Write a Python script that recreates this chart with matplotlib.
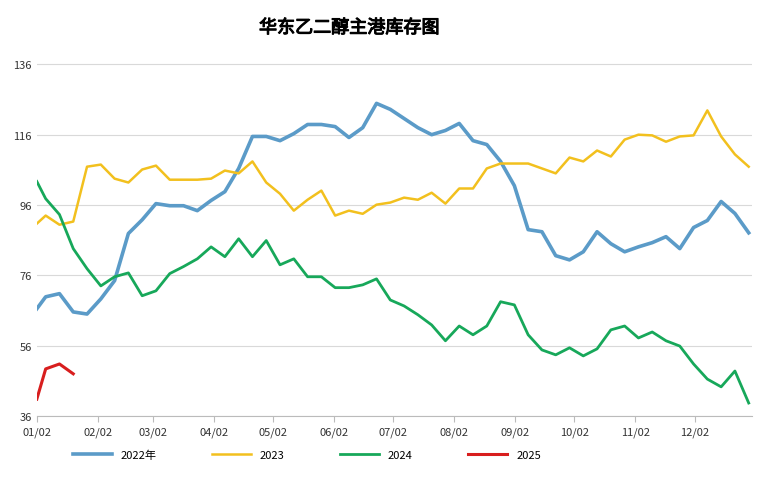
import matplotlib.pyplot as plt
from matplotlib.patheffects import withStroke

plt.rcParams['font.family'] = ['Noto Sans CJK SC', 'Noto Sans CJK JP',
                               'Noto Sans CJK TC', 'Noto Sans CJK KR', 'DejaVu Sans']

# 周度数据，x 为距 01/02 的天数
x_days = [0] + [4.5 + 7 * i for i in range(52)]

s2022 = [66.5, 69.9, 70.8, 65.6, 65, 69.3, 74.5, 87.9, 91.8, 96.4,
         95.8, 95.8, 94.4, 97.3, 99.8, 106.4, 115.5, 115.5, 114.3, 116.3,
         118.9, 118.9, 118.3, 115.2, 118, 124.9, 123.2, 120.6, 118, 116,
         117.2, 119.2, 114.3, 113.2, 108.4, 101.5, 89, 88.4, 81.6, 80.4,
         82.7, 88.4, 85, 82.7, 84.1, 85.3, 87, 83.6, 89.6, 91.6,
         97, 93.6, 88.1]
s2023 = [90.7, 93, 90.4, 91.3, 106.9, 107.5, 103.5, 102.4, 106.1, 107.2,
         103.2, 103.2, 103.2, 103.5, 105.8, 105, 108.4, 102.4, 99.2, 94.4,
         97.5, 100.1, 93, 94.4, 93.5, 96.1, 96.7, 98.1, 97.5, 99.5,
         96.4, 100.7, 100.7, 106.4, 107.8, 107.8, 107.8, 106.4, 105, 109.5,
         108.4, 111.5, 109.8, 114.6, 116, 115.8, 114, 115.5, 115.8, 122.9,
         115.5, 110.4, 106.9]
s2024 = [102.7, 97.8, 93.3, 83.6, 77.9, 73, 75.6, 76.7, 70.2, 71.6,
         76.5, 78.5, 80.7, 84.1, 81.3, 86.4, 81.3, 85.9, 79, 80.7,
         75.6, 75.6, 72.5, 72.5, 73.3, 75, 69, 67.3, 64.8, 61.9,
         57.4, 61.6, 59.1, 61.6, 68.5, 67.6, 59.1, 54.8, 53.4, 55.4,
         53.1, 55.1, 60.5, 61.6, 58.2, 59.9, 57.4, 55.9, 50.8, 46.5,
         44.3, 48.8, 39.7]
s2025 = [40.8, 49.4, 50.8, 48]

month_pos = [0, 31, 59, 90, 120, 151, 181, 212, 243, 273, 304, 334]
month_labels = ['01/02', '02/02', '03/02', '04/02', '05/02', '06/02',
                '07/02', '08/02', '09/02', '10/02', '11/02', '12/02']
y_ticks = [36, 56, 76, 96, 116, 136]

fig = plt.figure(figsize=(7.67, 4.81), dpi=100)
ax = fig.add_axes([0.048, 0.133, 0.932, 0.775])

ax.plot(x_days, s2022, color='#5B9BC8', lw=2.6, label='2022年')
ax.plot(x_days, s2023, color='#F2C01E', lw=1.8, label='2023')
ax.plot(x_days, s2024, color='#17A85A', lw=2.0, label='2024')
ax.plot(x_days[:len(s2025)], s2025, color='#D81E1E', lw=2.2, label='2025')

ax.set_xlim(0, 363)
ax.set_ylim(36, 142)
ax.set_yticks(y_ticks)
ax.set_xticks(month_pos)
ax.set_xticklabels(month_labels)
ax.tick_params(axis='both', labelsize=8, colors='#333333', length=0)
ax.tick_params(axis='x', length=4, direction='out', color='#bbbbbb')
ax.grid(axis='y', color='#d9d9d9', lw=0.8)
ax.set_axisbelow(True)
for side in ['top', 'right', 'left']:
    ax.spines[side].set_visible(False)
ax.spines['bottom'].set_color('#bbbbbb')

fig.text(0.455, 0.94, '华东乙二醇主港库存图', ha='center', va='center',
         fontsize=13, path_effects=[withStroke(linewidth=0.8, foreground='black')])
fig.legend(loc='lower center', ncol=4, frameon=False, fontsize=8,
           bbox_to_anchor=(0.4, 0.02), handlelength=3.5, columnspacing=5)

fig.savefig('out.png', dpi=100)
